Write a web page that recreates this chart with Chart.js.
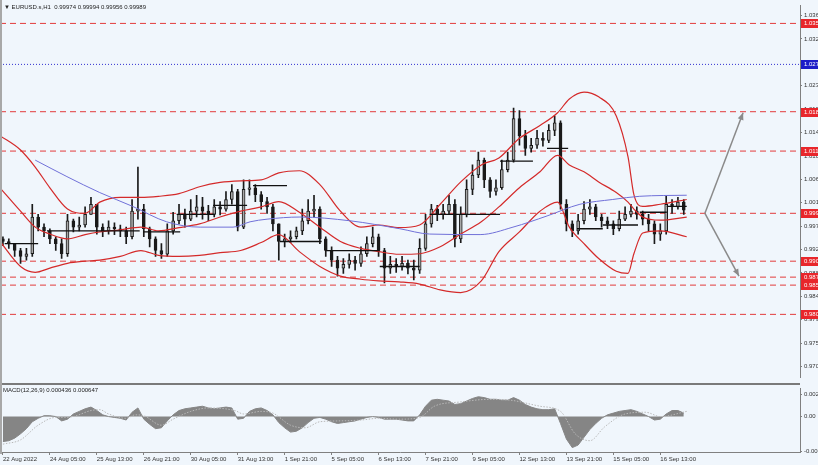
<!DOCTYPE html>
<html><head><meta charset="utf-8">
<script src="https://cdn.jsdelivr.net/npm/chart.js@4/dist/chart.umd.min.js"></script>
<style>
html,body{margin:0;padding:0;background:#f0f6fc;}
#wrap{position:relative;width:818px;height:465px;overflow:hidden;background:#f0f6fc;}
#c1{position:absolute;left:0;top:0;}
#c2{position:absolute;left:0;top:383px;}
.lbl{position:absolute;font:6px 'Liberation Sans',Arial,sans-serif;color:#222;white-space:nowrap;line-height:8px;}
</style></head><body>
<div id="wrap">
<canvas id="c1" width="818" height="383"></canvas>
<canvas id="c2" width="818" height="82"></canvas>
<div class="lbl" style="left:4px;top:3px">▼ EURUSD.s,H1&nbsp; 0.99974 0.99994 0.99956 0.99989</div>
<div class="lbl" style="left:3px;top:386px">MACD(12,26,9) 0.000436 0.000647</div>
</div>
<script>
// ---------- data (4-hour candles, index 0 = 22 Aug 2022) ----------
const opens = [0.9945,0.9940,0.9936,0.9923,0.9912,0.9917,0.9986,0.9967,0.9960,0.9945,
0.9936,0.9917,0.9979,0.9967,0.9971,0.9991,1.0010,0.9967,0.9960,0.9967,
0.9964,0.9960,0.9949,0.9997,1.0001,0.9964,0.9945,0.9923,0.9916,0.9960,
0.9979,0.9991,0.9982,0.9997,1.0005,0.9997,0.9991,1.0005,1.0001,1.0019,
1.0034,0.9967,1.0038,1.0041,1.0028,1.0015,1.0005,0.9973,0.9940,0.9945,
0.9949,0.9960,0.9979,0.9997,1.0001,0.9945,0.9923,0.9905,0.9890,0.9897,
0.9905,0.9899,0.9917,0.9936,0.9949,0.9923,0.9890,0.9897,0.9893,0.9899,
0.9890,0.9886,0.9927,0.9973,1.0001,0.9991,0.9997,1.0010,0.9945,0.9991,
1.0038,1.0065,1.0093,1.0056,1.0034,1.0041,1.0075,1.0093,1.0171,1.0139,
1.0115,1.0121,1.0134,1.0130,1.0149,1.0163,1.0010,0.9973,0.9960,0.9979,
1.0001,1.0005,0.9986,0.9979,0.9973,0.9964,0.9982,0.9991,0.9997,0.9991,
0.9982,0.9973,0.9954,0.9960,1.0010,1.0005,1.0014];
const closes = [0.9940,0.9936,0.9923,0.9912,0.9917,0.9986,0.9967,0.9960,0.9945,0.9936,
0.9917,0.9979,0.9967,0.9971,0.9991,1.0010,0.9967,0.9960,0.9967,0.9964,
0.9960,0.9949,0.9997,1.0001,0.9964,0.9945,0.9923,0.9916,0.9960,0.9979,
0.9991,0.9982,0.9997,1.0005,0.9997,0.9991,1.0005,1.0001,1.0019,1.0034,
0.9967,1.0038,1.0041,1.0028,1.0015,1.0005,0.9973,0.9940,0.9945,0.9949,
0.9960,0.9979,0.9997,1.0001,0.9945,0.9923,0.9905,0.9890,0.9897,0.9905,
0.9899,0.9917,0.9936,0.9949,0.9923,0.9890,0.9897,0.9893,0.9899,0.9890,
0.9886,0.9927,0.9973,1.0001,0.9991,0.9997,1.0010,0.9945,0.9991,1.0038,
1.0065,1.0093,1.0056,1.0034,1.0041,1.0075,1.0093,1.0171,1.0139,1.0115,
1.0121,1.0134,1.0130,1.0149,1.0163,1.0010,0.9973,0.9960,0.9979,1.0001,
1.0005,0.9986,0.9979,0.9973,0.9964,0.9982,0.9991,0.9997,0.9991,0.9982,
0.9973,0.9954,0.9960,1.0010,1.0005,1.0014,0.9999];
const highs = [0.9949,0.9945,0.9936,0.9927,0.9927,1.0010,0.9991,0.9973,0.9964,0.9949,
0.9945,0.9991,0.9982,0.9986,1.0005,1.0023,1.0010,0.9973,0.9979,0.9975,
0.9971,0.9967,1.0019,1.0080,1.0010,0.9967,0.9949,0.9936,0.9973,0.9995,
1.0010,1.0001,1.0019,1.0027,1.0023,1.0008,1.0019,1.0015,1.0034,1.0047,
1.0038,1.0056,1.0056,1.0047,1.0034,1.0023,1.0010,0.9973,0.9954,0.9960,
0.9967,1.0001,1.0019,1.0027,1.0005,0.9949,0.9930,0.9912,0.9908,0.9917,
0.9912,0.9930,0.9949,0.9967,0.9954,0.9927,0.9912,0.9908,0.9912,0.9905,
0.9905,0.9945,0.9991,1.0010,1.0008,1.0010,1.0027,1.0019,1.0005,1.0056,
1.0084,1.0108,1.0097,1.0060,1.0056,1.0093,1.0108,1.0191,1.0186,1.0149,
1.0134,1.0149,1.0145,1.0160,1.0176,1.0167,1.0019,0.9979,0.9991,1.0015,
1.0019,1.0010,0.9991,0.9986,0.9979,0.9997,1.0005,1.0010,1.0005,0.9997,
0.9991,0.9979,0.9973,1.0025,1.0019,1.0023,1.0019];
const lows = [0.9932,0.9927,0.9912,0.9899,0.9905,0.9912,0.9960,0.9949,0.9936,0.9923,
0.9908,0.9912,0.9958,0.9960,0.9967,0.9991,0.9954,0.9949,0.9954,0.9953,
0.9949,0.9936,0.9945,0.9982,0.9949,0.9930,0.9912,0.9908,0.9912,0.9954,
0.9973,0.9967,0.9979,0.9986,0.9982,0.9979,0.9986,0.9990,0.9997,1.0010,
0.9960,0.9964,1.0027,1.0015,1.0001,0.9993,0.9960,0.9905,0.9930,0.9938,
0.9945,0.9953,0.9973,0.9986,0.9936,0.9912,0.9893,0.9875,0.9880,0.9890,
0.9886,0.9893,0.9912,0.9930,0.9912,0.9862,0.9880,0.9882,0.9886,0.9879,
0.9868,0.9880,0.9923,0.9967,0.9979,0.9982,0.9991,0.9930,0.9938,0.9986,
1.0028,1.0060,1.0041,1.0023,1.0027,1.0038,1.0071,1.0089,1.0121,1.0102,
1.0108,1.0115,1.0119,1.0126,1.0139,1.0001,0.9960,0.9949,0.9954,0.9973,
0.9991,0.9979,0.9967,0.9964,0.9953,0.9960,0.9979,0.9986,0.9982,0.9971,
0.9960,0.9936,0.9942,0.9954,0.9993,1.0001,0.9991];

// Bollinger bands (read at these bar positions)
const bandIdx = [-0.5,3,5.5,8,11,14,16.5,20,23.5,26.5,30,33.5,37,40.5,44,47,50.5,54,57.5,61,64,67.5,71,74.5,78,81.5,84.5,88,91.5,94.5,96.5,99,101.5,104.5,106.5,107.5,109,112,116.5];
const bandUpper = [1.0139,1.0112,1.0080,1.0041,1.0001,0.9993,1.0014,1.0023,1.0023,1.0025,1.0030,1.0043,1.0051,1.0054,1.0056,1.0069,1.0073,1.0047,0.9997,0.9967,0.9971,0.9966,0.9971,1.0010,1.0052,1.0084,1.0097,1.0134,1.0158,1.0182,1.0208,1.0221,1.0212,1.0176,1.0099,1.0028,1.0006,1.0010,1.0019];
const bandMid = [1.0041,0.9997,0.9967,0.9954,0.9945,0.9953,0.9958,0.9962,0.9967,0.9960,0.9966,0.9973,0.9986,0.9997,1.0005,1.0015,0.9995,0.9967,0.9940,0.9927,0.9921,0.9916,0.9917,0.9930,0.9954,0.9977,1.0005,1.0041,1.0071,1.0102,1.0084,1.0071,1.0052,1.0032,1.0014,1.0001,0.9986,0.9980,0.9986];
const bandLower = [0.9940,0.9893,0.9882,0.9890,0.9899,0.9903,0.9905,0.9912,0.9923,0.9914,0.9912,0.9914,0.9919,0.9923,0.9938,0.9953,0.9921,0.9893,0.9875,0.9869,0.9866,0.9864,0.9860,0.9849,0.9844,0.9866,0.9921,0.9958,0.9997,1.0014,0.9967,0.9936,0.9908,0.9884,0.9880,0.9917,0.9956,0.9960,0.9949];

// Blue moving average
const maIdx = [5.5,10.9,16.5,22.1,27.9,33.6,39.2,42.1,45,50.6,59.1,67.6,72.7,81.3,86.9,92.7,98.3,103.9,108.5,116.5];
const maVals = [1.0093,1.0062,1.0032,1.0006,0.9977,0.9967,0.9967,0.9977,0.9982,0.9986,0.9979,0.9964,0.9954,0.9953,0.9967,0.9988,1.0010,1.0019,1.0025,1.0027];

// Black horizontal segments
const segStart = [0.3,7.5,23.9,29.6,35.8,42.6,47.2,54.9,64.2,72.7,84.7,92.7,97.8,102.2,108.5,113.1];
const segEnd   = [6,23.3,30.2,36.1,41.6,48.4,54.3,64.2,71,84.7,90.3,96.3,102.2,108.2,113.1,116.5];
const segLevel = [0.9936,0.9960,0.9958,0.9991,1.0008,1.0045,0.9940,0.9923,0.9893,0.9991,1.0091,1.0115,0.9964,0.9971,0.9995,1.0006];

// Horizontal levels
const levelPrices = [1.0350,1.0273,1.0184,1.0110,0.9993,0.9903,0.9873,0.9858,0.9803];
const levelLabels = ["1.03500","1.02730","1.01840","1.01100","0.99930","0.99030","0.98730","0.98580","0.98030"];
const levelKinds  = ["red","blue","red","red","red","red","red","red","red"];

// Projection arrows
const arrowFromX = [119.6,119.6], arrowFromY = [0.9993,0.9993];
const arrowToX   = [126.1,125.4], arrowToY   = [1.0182,0.9875];

// MACD
const macdHist = [-0.0029,-0.0028,-0.0025,-0.0020,-0.0014,-0.0006,-0.0002,0.0001,0.0001,0.0000,
-0.0005,-0.0003,0.0003,0.0006,0.0009,0.0011,0.0007,0.0002,0.0000,-0.0001,
-0.0002,-0.0004,0.0005,0.0010,-0.0003,-0.0009,-0.0014,-0.0013,-0.0005,0.0002,
0.0007,0.0009,0.0010,0.0011,0.0012,0.0010,0.0009,0.0010,0.0011,0.0010,
-0.0003,-0.0002,0.0006,0.0009,0.0010,0.0007,0.0002,-0.0007,-0.0013,-0.0018,
-0.0017,-0.0013,-0.0007,-0.0002,-0.0001,-0.0003,-0.0006,-0.0008,-0.0007,-0.0006,
-0.0005,-0.0003,-0.0001,0.0000,-0.0001,-0.0003,-0.0003,-0.0003,-0.0004,-0.0005,
-0.0005,0.0002,0.0012,0.0019,0.0020,0.0019,0.0018,0.0014,0.0015,0.0018,
0.0021,0.0023,0.0022,0.0020,0.0020,0.0019,0.0019,0.0022,0.0019,0.0014,
0.0011,0.0009,0.0008,0.0008,0.0009,-0.0008,-0.0026,-0.0036,-0.0033,-0.0024,
-0.0015,-0.0008,-0.0002,0.0002,0.0004,0.0006,0.0007,0.0008,0.0006,0.0003,
0.0000,-0.0004,-0.0003,0.0003,0.0007,0.0007,0.0004];
const sigIdx = [0,3,6,9,10.5,12,15,16.5,18,21,22.5,24,27,29,32,35,39.5,41,44,46,49,51.5,54,57.5,61,64,67.5,71,73.5,78,83,86.5,91.5,95,97.5,100,102.5,106,109.5,112,116.5];
const sigVals = [-0.0032,-0.0027,-0.0010,-0.0001,-0.0001,0.0000,0.0007,0.0008,0.0003,-0.0002,0.0002,0.0001,-0.0010,-0.0003,0.0006,0.0010,0.0007,0.0003,0.0006,0.0004,-0.0010,-0.0013,-0.0006,-0.0005,-0.0004,-0.0002,-0.0003,-0.0001,0.0012,0.0017,0.0020,0.0019,0.0012,0.0006,-0.0020,-0.0028,-0.0012,0.0003,0.0005,0.0000,0.0006];

// Axes
const xTickIdx = [0,8,16,24,32,40,48,56,64,72,80,88,96,104,112];
const xTickLabels = ["22 Aug 2022","24 Aug 05:00","25 Aug 13:00","26 Aug 21:00","30 Aug 05:00","31 Aug 13:00","1 Sep 21:00","5 Sep 05:00","6 Sep 13:00","7 Sep 21:00","9 Sep 05:00","12 Sep 13:00","13 Sep 21:00","15 Sep 05:00","16 Sep 13:00"];
const yTickValues = [0.9705,0.9749,0.9793,0.9837,0.9881,0.9925,0.9969,1.0013,1.0057,1.0101,1.0145,1.0189,1.0233,1.0277,1.0321,1.0365];
const yTickLabels = ["0.970","0.975","0.979","0.984","0.988","0.992","0.997","1.001","1.006","1.010","1.014","1.019","1.023","1.027","1.032","1.036"];
const macdTickValues = [0.0026,0,-0.0040];
const macdTickLabels = ["0.002","0.00","-0.004"];

const X_MIN = -0.5, X_MAX = 135.8;
const Y_MIN = 0.96845, Y_MAX = 1.03835;
const M_MIN = -0.004108, M_MAX = 0.003243;

// ---------- styling ----------
const FONT = {family:"'Liberation Sans', Arial, sans-serif", size:6};
const AXIS = '#808080';
const RED = '#d42a2a';

const idx = closes.map((_, i) => i);
const datasets = [];

// levels (bottom layer)
levelPrices.forEach((p, i) => {
  const blue = levelKinds[i] === 'blue';
  datasets.push({type:'line', order:20, data:[{x:X_MIN,y:p},{x:X_MAX,y:p}],
    borderColor: blue ? '#3030d0' : '#e23c3c', borderWidth:1,
    borderDash: blue ? [1,2] : [6,4], pointRadius:0});
});
// wicks
datasets.push({type:'bar', order:8, grouped:false, barThickness:1,
  data: idx.map(i => ({x:i, y:[lows[i], highs[i]]})), backgroundColor:'#1a1a1a'});
// bodies
datasets.push({type:'bar', order:7, grouped:false, barThickness:3, borderSkipped:false,
  data: idx.map(i => ({x:i, y:[opens[i], closes[i]]})),
  backgroundColor: idx.map(i => closes[i] >= opens[i] ? '#a8a8a8' : '#1a1a1a'),
  borderColor:'#1a1a1a', borderWidth:1});
// bollinger bands
[bandUpper, bandMid, bandLower].forEach(arr => {
  datasets.push({type:'line', order:4, data: bandIdx.map((x, k) => ({x, y:arr[k]})),
    borderColor:RED, borderWidth:1.2, pointRadius:0, cubicInterpolationMode:'monotone'});
});
// moving average
datasets.push({type:'line', order:3, data: maIdx.map((x, k) => ({x, y:maVals[k]})),
  borderColor:'#7070d8', borderWidth:1, pointRadius:0, cubicInterpolationMode:'monotone'});
// black segments
const segData = [];
segStart.forEach((s, k) => { segData.push({x:s,y:segLevel[k]},{x:segEnd[k],y:segLevel[k]},{x:segEnd[k],y:null}); });
datasets.push({type:'line', order:2, data:segData, borderColor:'#111', borderWidth:1.3, pointRadius:0, spanGaps:false});
// arrows
arrowFromX.forEach((x0, k) => {
  datasets.push({type:'line', order:1, data:[{x:x0,y:arrowFromY[k]},{x:arrowToX[k],y:arrowToY[k]}],
    borderColor:'#8a8a8a', borderWidth:1.5, pointRadius:0});
});

const mainPlugin = {
  id:'mainDeco',
  afterDatasetsDraw(chart){
    const {ctx, scales:{x, y}} = chart;
    ctx.save();
    ctx.fillStyle = '#8a8a8a';
    arrowFromX.forEach((x0, k) => {
      const px0 = x.getPixelForValue(x0), py0 = y.getPixelForValue(arrowFromY[k]);
      const px1 = x.getPixelForValue(arrowToX[k]), py1 = y.getPixelForValue(arrowToY[k]);
      const a = Math.atan2(py1 - py0, px1 - px0);
      ctx.beginPath();
      ctx.moveTo(px1, py1);
      ctx.lineTo(px1 - 7*Math.cos(a) + 3*Math.sin(a), py1 - 7*Math.sin(a) - 3*Math.cos(a));
      ctx.lineTo(px1 - 7*Math.cos(a) - 3*Math.sin(a), py1 - 7*Math.sin(a) + 3*Math.cos(a));
      ctx.closePath(); ctx.fill();
    });
    ctx.restore();
  },
  afterDraw(chart){
    const {ctx, chartArea, scales:{y}} = chart;
    ctx.save();
    ctx.font = "6px 'Liberation Sans', Arial, sans-serif";
    ctx.textBaseline = 'middle';
    levelPrices.forEach((p, i) => {
      const py = Math.round(y.getPixelForValue(p));
      ctx.fillStyle = levelKinds[i] === 'blue' ? '#1c1cc8' : '#e8262b';
      ctx.fillRect(chartArea.right + 1, py - 4, 20, 9);
      ctx.fillStyle = '#ffffff';
      ctx.fillText(levelLabels[i], chartArea.right + 4, py + 0.5);
    });
    ctx.fillStyle = '#a8a8a8';
    ctx.fillRect(0, 0, 2, chart.height);
    ctx.restore();
  }
};

new Chart(document.getElementById('c1'), {
  type:'bar',
  data:{datasets},
  options:{
    responsive:false, animation:false, events:[],
    layout:{padding:{left:0, right:0, top:3, bottom:2}},
    plugins:{legend:{display:false}, tooltip:{enabled:false}},
    scales:{
      x:{type:'linear', min:X_MIN, max:X_MAX, display:false, offset:false},
      y:{type:'linear', position:'right', min:Y_MIN, max:Y_MAX,
        afterBuildTicks: s => { s.ticks = yTickValues.map(v => ({value:v})); },
        afterFit: s => { s.width = 18; },
        ticks:{font:FONT, color:'#333', padding:2, autoSkip:false, callback:(v, i) => yTickLabels[i]},
        grid:{display:true, drawOnChartArea:false, drawTicks:true, tickLength:2, color:AXIS},
        border:{display:true, color:AXIS, width:1}}
    }
  },
  plugins:[mainPlugin]
});

const macdPlugin = {
  id:'macdDeco',
  afterDraw(chart){
    const {ctx, chartArea} = chart;
    ctx.save();
    ctx.fillStyle = '#7a7a7a';
    ctx.fillRect(0, 0, chartArea.right, 2);
    ctx.fillStyle = '#a8a8a8';
    ctx.fillRect(0, 0, 2, chartArea.bottom + 2);
    ctx.restore();
  }
};

new Chart(document.getElementById('c2'), {
  type:'line',
  data:{datasets:[
    {data: idx.map(i => ({x:i, y:macdHist[i]})), borderColor:'#858585', backgroundColor:'#858585',
      borderWidth:1, pointRadius:0, fill:'origin', tension:0, order:2},
    {data: sigIdx.map((x, k) => ({x, y:sigVals[k]})), borderColor:'#b8b8b8', borderWidth:1,
      borderDash:[1.5,1.5], pointRadius:0, fill:false, cubicInterpolationMode:'monotone', order:1}
  ]},
  options:{
    responsive:false, animation:false, events:[],
    layout:{padding:{left:0, right:0, top:2, bottom:0}},
    plugins:{legend:{display:false}, tooltip:{enabled:false}},
    scales:{
      x:{type:'linear', min:X_MIN, max:X_MAX, offset:false,
        afterBuildTicks: s => { s.ticks = xTickIdx.map(v => ({value:v})); },
        afterFit: s => { s.height = 13; },
        ticks:{font:FONT, color:'#333', align:'start', padding:1, maxRotation:0, autoSkip:false,
          callback:(v, i) => xTickLabels[i]},
        grid:{display:true, drawOnChartArea:false, drawTicks:true, tickLength:3, color:AXIS},
        border:{display:true, color:AXIS, width:1}},
      y:{type:'linear', position:'right', min:M_MIN, max:M_MAX,
        afterBuildTicks: s => { s.ticks = macdTickValues.map(v => ({value:v})); },
        afterFit: s => { s.width = 18; },
        ticks:{font:FONT, color:'#333', padding:2, autoSkip:false, callback:(v, i) => macdTickLabels[i]},
        grid:{display:true, drawOnChartArea:false, drawTicks:true, tickLength:2, color:AXIS},
        border:{display:true, color:AXIS, width:1}}
    }
  },
  plugins:[macdPlugin]
});
</script>
</body></html>
